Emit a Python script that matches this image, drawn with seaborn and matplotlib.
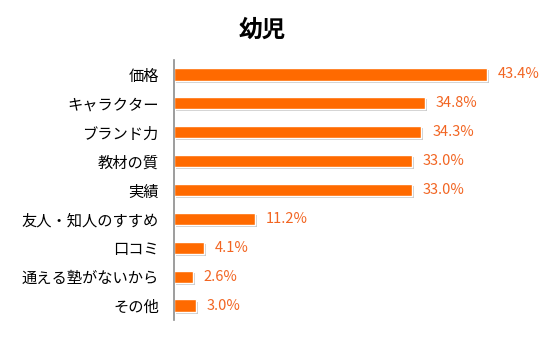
import matplotlib
matplotlib.use("Agg")
import matplotlib.pyplot as plt
import matplotlib.patheffects as pe
import seaborn as sns
import pandas as pd

categories = ["価格", "キャラクター", "ブランド力", "教材の質", "実績",
              "友人・知人のすすめ", "口コミ", "通える塾がないから", "その他"]
values = [43.4, 34.8, 34.3, 33.0, 33.0, 11.2, 4.1, 2.6, 3.0]
labels = ["43.4%", "34.8%", "34.3%", "33.0%", "33.0%", "11.2%", "4.1%", "2.6%", "3.0%"]
title = "幼児"

sns.set_theme(style="white")
plt.rcParams['font.family'] = ['Noto Sans CJK JP', 'DejaVu Sans']

df = pd.DataFrame({"cat": categories, "val": values})

fig = plt.figure(figsize=(5.6, 3.4), dpi=100)
ax = fig.add_axes([174/560, 20/340, (534.5-174)/560, 260/340])

sns.barplot(data=df, x="val", y="cat", ax=ax, color="#FF6A00", width=0.42,
            saturation=1, orient="h")
for p in ax.patches:
    p.set_path_effects([pe.SimplePatchShadow(offset=(1.5, -1.5), shadow_rgbFace="#999999", alpha=0.5),
                        pe.Normal()])

ax.set_xlim(0, 50)
ax.set_ylim(8.5, -0.5)
ax.set_xlabel("")
ax.set_ylabel("")
ax.set_xticks([])
for s in ["top", "right", "bottom"]:
    ax.spines[s].set_visible(False)
ax.spines["left"].set_color("#8c8c8c")
ax.spines["left"].set_linewidth(1.2)
ax.tick_params(axis="y", length=0, pad=11, labelsize=11, labelcolor="#000000")

for i, (v, lab) in enumerate(zip(values, labels)):
    ax.annotate(lab, xy=(v, i), xytext=(8, 0), textcoords="offset points",
                va="center", ha="left", fontsize=10.5, color="#F26522")

fig.text(262/560, 1 - 30/340, title, ha="center", va="center",
         fontsize=17, fontweight="bold", color="#000000")

fig.savefig("out.png", dpi=100)
